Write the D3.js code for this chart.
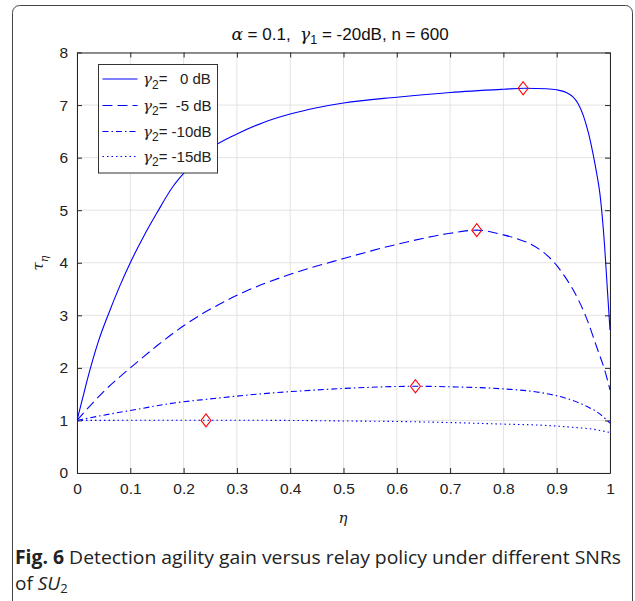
<!DOCTYPE html>
<html><head><meta charset="utf-8">
<script src="https://cdn.jsdelivr.net/npm/d3@7/dist/d3.min.js"></script>
<style>body{margin:0;background:#fff}svg{display:block}</style>
</head><body>
<script>
// ---- data ----
const xTicks = [0,0.1,0.2,0.3,0.4,0.5,0.6,0.7,0.8,0.9,1];
const yTicks = [0,1,2,3,4,5,6,7,8];
const seriesNames = ["0 dB","-5 dB","-10dB","-15dB"];
const eta0 = [0,0.01,0.02,0.04,0.06,0.08,0.1,0.125,0.15,0.18,0.2,0.25,0.3,0.35,0.4,0.45,0.5,0.6,0.7,0.8,0.84,0.88,0.9,0.92,0.93,0.94,0.95,0.96,0.968,0.975,0.981,0.99,0.995,1.0];
const tau0 = [1,1.4,1.8,2.5,3.05,3.55,4.0,4.5,4.95,5.45,5.7,6.17,6.45,6.67,6.83,6.95,7.04,7.15,7.24,7.3,7.32,7.31,7.29,7.23,7.16,7.03,6.8,6.45,6.08,5.7,5.32,4.3,3.5,2.72];
const eta5 = [0,0.05,0.1,0.15,0.2,0.3,0.4,0.5,0.6,0.7,0.75,0.8,0.825,0.85,0.875,0.9,0.915,0.93,0.955,0.977,0.99,1.0];
const tau5 = [1,1.55,2.0,2.42,2.8,3.38,3.78,4.08,4.35,4.56,4.62,4.53,4.46,4.36,4.2,3.95,3.74,3.5,2.97,2.34,1.96,1.58];
const eta10 = [0,0.05,0.112,0.174,0.25,0.362,0.45,0.55,0.635,0.7,0.8,0.87,0.93,0.96,0.98,1.0];
const tau10 = [1,1.1,1.21,1.32,1.41,1.52,1.58,1.63,1.65,1.64,1.6,1.53,1.38,1.25,1.13,0.95];
const eta15 = [0,0.24,0.4,0.5,0.6,0.7,0.8,0.87,0.93,0.97,1.0];
const tau15 = [1,1.005,1.0,0.99,0.98,0.96,0.93,0.91,0.87,0.83,0.77];
const peakEta = [0.837,0.75,0.635,0.242];
const peakTau = [7.32,4.62,1.65,1.0];

const W=635,H=601;
const m={l:77,r:610,t:52.5,b:473};
const svg=d3.select("body").append("svg").attr("width",W).attr("height",H);
svg.append("rect").attr("width",W).attr("height",H).attr("fill","#fff");
svg.append("rect").attr("x",12.5).attr("y",5.5).attr("width",620).attr("height",640).attr("rx",7)
  .attr("fill","none").attr("stroke","#444").attr("stroke-width",1);

const x=d3.scaleLinear().domain([0,1]).range([m.l,m.r]);
const y=d3.scaleLinear().domain([0,8]).range([m.b,m.t]);
const axCol="#262626", gridCol="#e3e3e3", font="'Liberation Sans', Arial, Helvetica, sans-serif";
const serif="'DejaVu Serif', serif";

const g=svg.append("g");
g.selectAll(".gx").data(xTicks).join("line").attr("x1",d=>x(d)).attr("x2",d=>x(d)).attr("y1",m.t).attr("y2",m.b).attr("stroke",gridCol);
g.selectAll(".gy").data(yTicks).join("line").attr("y1",d=>y(d)).attr("y2",d=>y(d)).attr("x1",m.l).attr("x2",m.r).attr("stroke",gridCol);

const tl=5;
const ax=svg.append("g").attr("transform",`translate(0,${m.b})`).call(d3.axisBottom(x).tickValues(xTicks).tickSizeInner(-tl).tickSizeOuter(0).tickPadding(10).tickFormat(d=>d3.format("")(d)));
const axT=svg.append("g").attr("transform",`translate(0,${m.t})`).call(d3.axisTop(x).tickValues(xTicks).tickSizeInner(-tl).tickSizeOuter(0).tickFormat(""));
const ay=svg.append("g").attr("transform",`translate(${m.l},0)`).call(d3.axisLeft(y).tickValues(yTicks).tickSizeInner(-tl).tickSizeOuter(0).tickPadding(9));
const ayR=svg.append("g").attr("transform",`translate(${m.r},0)`).call(d3.axisRight(y).tickValues(yTicks).tickSizeInner(-tl).tickSizeOuter(0).tickFormat(""));
[ax,axT,ay,ayR].forEach(a=>{a.attr("font-family",font).attr("font-size",15.5);a.selectAll("path,line").attr("stroke",axCol);a.selectAll("text").attr("fill","#222");});

const line=d3.line().x(d=>x(d[0])).y(d=>y(d[1])).curve(d3.curveMonotoneX);
const series=[[eta0,tau0,null],[eta5,tau5,"10,5"],[eta10,tau10,"6,3,1.5,3"],[eta15,tau15,"1.5,3"]];
svg.append("clipPath").attr("id","pc").append("rect").attr("x",m.l).attr("y",m.t).attr("width",m.r-m.l+1).attr("height",m.b-m.t);
series.forEach(s=>{
  svg.append("path").datum(s[0].map((e,i)=>[e,s[1][i]])).attr("d",line).attr("fill","none")
   .attr("stroke","#0000ff").attr("stroke-width",1.1).attr("stroke-dasharray",s[2]).attr("clip-path","url(#pc)");
});
svg.selectAll(".mk").data(peakEta.map((e,i)=>[e,peakTau[i]])).join("path")
 .attr("d","M0,-6.5L5,0L0,6.5L-5,0Z").attr("transform",d=>`translate(${x(d[0])},${y(d[1])})`)
 .attr("fill","none").attr("stroke","#ff0000").attr("stroke-width",1.1);

const L={x:98.5,y:64.5,w:119,h:108.5};
svg.append("rect").attr("x",L.x).attr("y",L.y).attr("width",L.w).attr("height",L.h).attr("fill","#fff").attr("stroke","#333").attr("stroke-width",1);
const lg=[79,105.5,131.5,156.5];
series.forEach((s,i)=>{
  svg.append("line").attr("x1",102.5).attr("x2",137.5).attr("y1",lg[i]).attr("y2",lg[i]).attr("stroke","#0000ff").attr("stroke-width",1.1).attr("stroke-dasharray",s[2]);
  const t=svg.append("text").attr("x",143).attr("y",lg[i]+5).attr("font-family",font).attr("font-size",15).attr("fill","#222").attr("xml:space","preserve");
  t.append("tspan").text("γ").attr("font-family",serif).attr("font-style","italic");
  t.append("tspan").text("2").attr("dy",4.5).attr("font-size",12);
  t.append("tspan").text(i==0?"=   ":i==1?"=  ":"= ").attr("dy",-4.5);
  t.append("tspan").text(seriesNames[i]);
});

const tt=svg.append("text").attr("x",340).attr("y",39.5).attr("text-anchor","middle").attr("font-family",font).attr("font-size",17).attr("fill","#111").attr("xml:space","preserve");
tt.append("tspan").text("α").attr("font-family",serif).attr("font-style","italic");
tt.append("tspan").text(" = 0.1,  ");
tt.append("tspan").text("γ").attr("font-family",serif).attr("font-style","italic");
tt.append("tspan").text("1").attr("dy",4.5).attr("font-size",12.5);
tt.append("tspan").text(" = -20dB, n = 600").attr("dy",-4.5);

svg.append("text").attr("x",343).attr("y",523).attr("text-anchor","middle").attr("font-family",serif).attr("font-style","italic").attr("font-size",15).attr("fill","#222").text("η");
const yl=svg.append("text").attr("transform","translate(43,263) rotate(-90)").attr("text-anchor","middle").attr("font-family",serif).attr("font-style","italic").attr("font-size",15).attr("fill","#222");
yl.append("tspan").text("τ");
yl.append("tspan").text("η").attr("dy",4.5).attr("font-size",11);

const cf="'Open Sans', 'Noto Sans', sans-serif";
const c1=svg.append("text").attr("x",15).attr("y",564).attr("font-family",cf).attr("font-size",19).attr("fill","#222")
  .attr("textLength",606).attr("lengthAdjust","spacingAndGlyphs");
c1.append("tspan").text("Fig. 6").attr("font-weight","bold");
c1.append("tspan").text(" Detection agility gain versus relay policy under different SNRs");
const c2=svg.append("text").attr("x",15).attr("y",590).attr("font-family",cf).attr("font-size",19).attr("fill","#222");
c2.append("tspan").text("of ");
c2.append("tspan").text("SU").attr("font-style","italic");
c2.append("tspan").text("2").attr("dy",3).attr("font-size",13);
</script>
</body></html>
